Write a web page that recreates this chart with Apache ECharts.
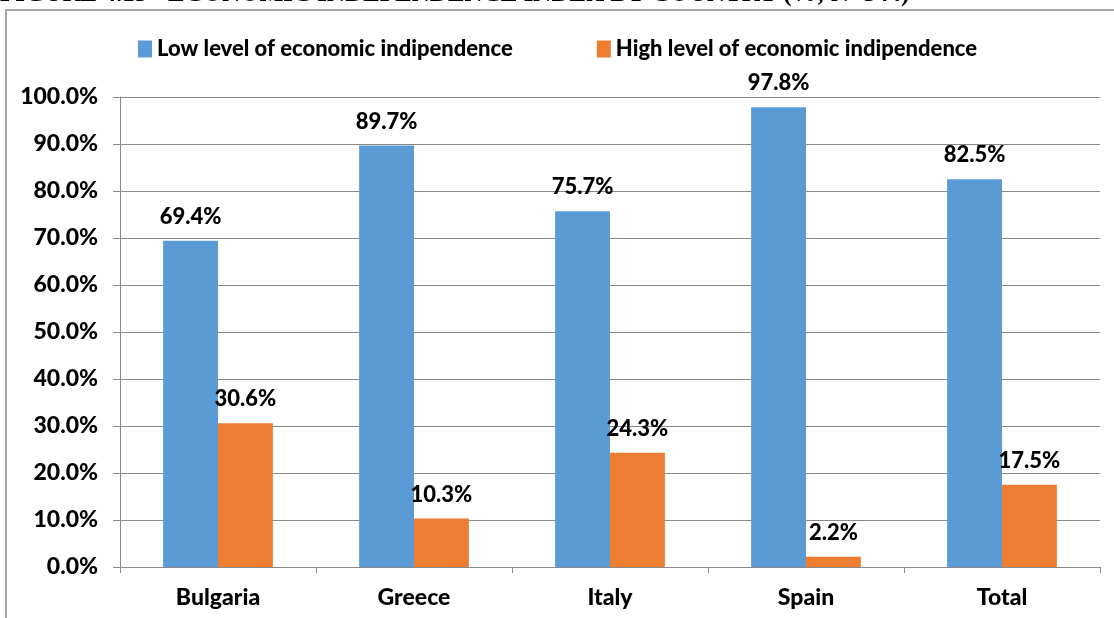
<!DOCTYPE html>
<html>
<head>
<meta charset="utf-8">
<script src="https://cdn.jsdelivr.net/npm/echarts@6/dist/echarts.min.js"></script>
<style>
html, body { margin: 0; padding: 0; background: #fff; }
#chart { width: 1114px; height: 618px; }
</style>
</head>
<body>
<div id="chart"></div>
<script>
var countries = ['Bulgaria', 'Greece', 'Italy', 'Spain', 'Total'];
var lowLevel = [69.4, 89.7, 75.7, 97.8, 82.5];
var highLevel = [30.6, 10.3, 24.3, 2.2, 17.5];
var seriesNames = ['Low level of economic indipendence', 'High level of economic indipendence'];
var figureTitle = 'FIGURE 4.13 - ECONOMIC INDEPENDENCE INDEX BY COUNTRY (%; N=344)';

var chart = echarts.init(document.getElementById('chart'));
var fontName = 'Lato';
var heavy = 900;
var gray = '#898989';

function pct(v) {
    return v.toFixed(1) + '%';
}

var labelStyle = {
    show: true,
    position: 'top',
    distance: 13,
    fontFamily: fontName,
    fontWeight: heavy,
    fontSize: 22,
    color: '#000',
    formatter: function (p) { return pct(p.value); }
};

var option = {
    animation: false,
    graphic: [
        {
            type: 'rect',
            shape: { x: 6, y: 10, width: 1200, height: 700 },
            style: { fill: 'none', stroke: '#a6a6a6', lineWidth: 2 }
        },
        {
            type: 'text',
            left: 0,
            top: -18,
            style: {
                text: figureTitle,
                font: 'bold 25px "Liberation Serif"',
                fill: '#000'
            }
        }
    ],
    legend: {
        data: seriesNames,
        top: 33,
        left: 133,
        itemWidth: 14,
        itemHeight: 17,
        itemGap: 84,
        icon: 'rect',
        textStyle: { fontFamily: fontName, fontWeight: heavy, fontSize: 22, color: '#000' }
    },
    grid: { left: 120, right: 14, top: 97, bottom: 51, containLabel: false },
    xAxis: {
        type: 'category',
        data: countries,
        axisLine: { lineStyle: { color: gray, width: 1 } },
        axisTick: { show: true, length: 6, lineStyle: { color: gray } },
        axisLabel: { margin: 19, fontFamily: fontName, fontWeight: heavy, fontSize: 23, color: '#000' }
    },
    yAxis: {
        type: 'value',
        min: 0,
        max: 100,
        interval: 10,
        axisLine: { show: true, lineStyle: { color: gray, width: 1 } },
        axisTick: { show: true, length: 7, lineStyle: { color: gray } },
        splitLine: { lineStyle: { color: gray, width: 1 } },
        axisLabel: {
            margin: 22,
            fontFamily: fontName,
            fontWeight: heavy,
            fontSize: 23,
            color: '#000',
            formatter: function (v) { return pct(v); }
        }
    },
    series: [
        {
            name: seriesNames[0],
            type: 'bar',
            data: lowLevel,
            barGap: '0%',
            barCategoryGap: '44%',
            itemStyle: { color: '#5b9bd5' },
            label: labelStyle
        },
        {
            name: seriesNames[1],
            type: 'bar',
            data: highLevel,
            itemStyle: { color: '#ed7d31' },
            label: labelStyle
        }
    ]
};

chart.setOption(option);
</script>
</body>
</html>
